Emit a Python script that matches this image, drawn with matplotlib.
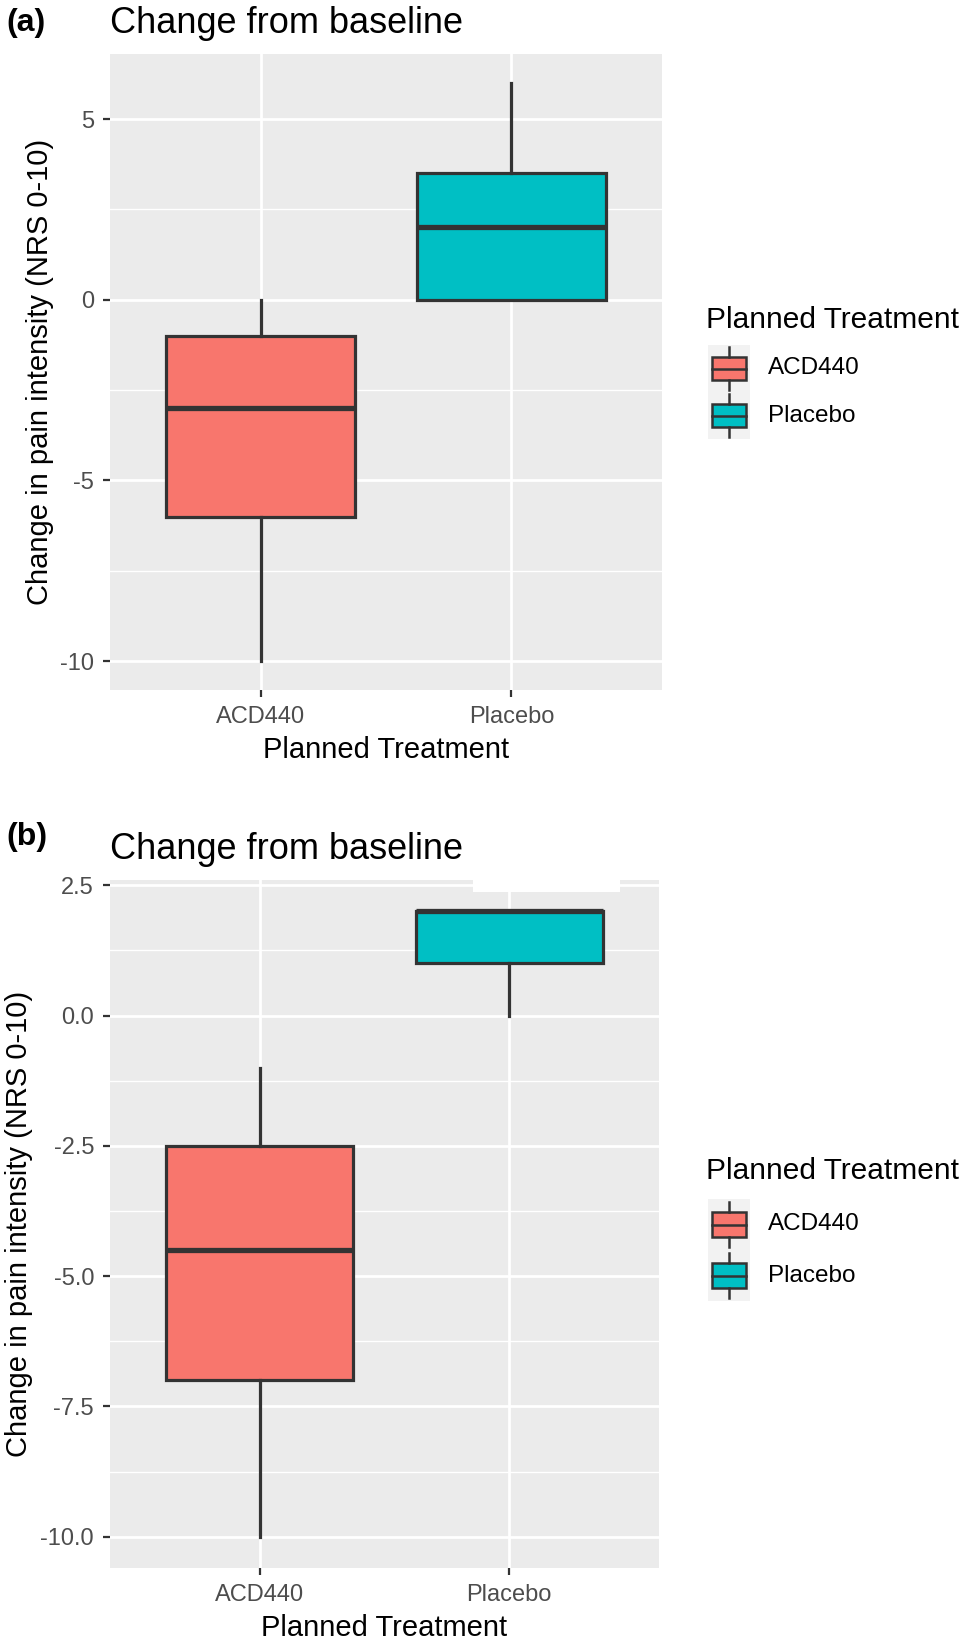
import matplotlib
matplotlib.use('Agg')
import matplotlib.pyplot as plt
from matplotlib.patches import Rectangle

plt.rcParams['font.family'] = ['Liberation Sans', 'DejaVu Sans']

# data: whisker low, Q1, median, Q3, whisker high
groups = ['ACD440', 'Placebo']
colors = ['#F8766D', '#00BFC4']

a_low = [-10, 0]
a_q1 = [-6, 0]
a_med = [-3, 2]
a_q3 = [-1, 3.5]
a_high = [0, 6]

b_low = [-10, 0]
b_q1 = [-7, 1]
b_med = [-4.5, 2]
b_q3 = [-2.5, 2]
b_high = [-1, 2]

a_ticks = [-10, -5, 0, 5]
a_ticklabels = ['-10', '-5', '0', '5']
b_ticks = [-10, -7.5, -5, -2.5, 0, 2.5]
b_ticklabels = ['-10.0', '-7.5', '-5.0', '-2.5', '0.0', '2.5']

W, H = 975, 1643
fig = plt.figure(figsize=(W / 100, H / 100), dpi=100)

PANEL = '#EBEBEB'
EDGE = '#333333'
TICKC = '#4D4D4D'


def fx(px):
    return px / W


def fy(py):
    return 1 - py / H


def draw_panel(rect, low, q1, med, q3, high, ticks, ticklabels, ylab_pad):
    ax = fig.add_axes(rect)
    ax.set_facecolor(PANEL)
    stats = []
    for i in range(len(groups)):
        stats.append(dict(whislo=low[i], q1=q1[i], med=med[i], q3=q3[i],
                          whishi=high[i], fliers=[]))
    bp = ax.bxp(stats, positions=[1, 2], widths=0.75, patch_artist=True,
                showcaps=False, showfliers=False,
                boxprops=dict(edgecolor=EDGE, linewidth=2.3),
                whiskerprops=dict(color=EDGE, linewidth=2.3),
                medianprops=dict(color=EDGE, linewidth=3.8, solid_capstyle='butt'),
                zorder=3)
    for patch, c in zip(bp['boxes'], colors):
        patch.set_facecolor(c)
    lo = min(low)
    hi = max(high)
    pad = (hi - lo) * 0.05
    ax.set_ylim(lo - pad, hi + pad)
    ax.set_xlim(0.4, 2.6)
    ax.set_xticks([1, 2])
    ax.set_xticklabels(groups)
    ax.set_yticks(ticks)
    ax.set_yticklabels(ticklabels)
    step = ticks[1] - ticks[0]
    minor = [t + step / 2 for t in [ticks[0] - step] + ticks]
    minor = [m for m in minor if lo - pad < m < hi + pad]
    ax.set_yticks(minor, minor=True)
    ax.tick_params(axis='y', which='minor', length=0)
    ax.grid(True, which='major', color='white', linewidth=2.0, zorder=0)
    ax.grid(True, which='minor', axis='y', color='white', linewidth=1.0, zorder=0)
    ax.set_axisbelow(True)
    for s in ax.spines.values():
        s.set_visible(False)
    ax.tick_params(axis='both', which='major', length=5, width=1.6, color=EDGE,
                   labelcolor=TICKC, labelsize=17, pad=6.5)
    ax.tick_params(axis='x', pad=6.5)
    ax.set_xlabel('Planned Treatment', fontsize=21, labelpad=6)
    ax.set_ylabel('Change in pain intensity (NRS 0-10)', fontsize=21, labelpad=ylab_pad)
    ax.set_title('Change from baseline', fontsize=26, loc='left', pad=15)
    return ax


def draw_legend(x0, y_title, y_key, kh):
    fig.text(fx(x0), fy(y_title), 'Planned Treatment', fontsize=21.5,
             va='baseline', ha='left')
    kw = 42
    lax = fig.add_axes([fx(x0 + 2), fy(y_key + 2 * kh), fx(kw), 2 * kh / H])
    lax.set_xlim(0, 1)
    lax.set_ylim(0, 2)
    lax.axis('off')
    for i, (g, c) in enumerate(zip(groups, colors)):
        yb = 1 - i
        lax.add_patch(Rectangle((0, yb), 1, 1, facecolor='#F2F2F2', edgecolor='none'))
        lax.plot([0.5, 0.5], [yb + 0.05, yb + 0.25], color=EDGE, lw=1.8)
        lax.plot([0.5, 0.5], [yb + 0.75, yb + 0.95], color=EDGE, lw=1.8)
        lax.add_patch(Rectangle((0.1, yb + 0.25), 0.8, 0.5, facecolor=c,
                                edgecolor=EDGE, linewidth=1.8))
        lax.plot([0.1, 0.9], [yb + 0.5, yb + 0.5], color=EDGE, lw=1.8)
        fig.text(fx(x0 + kw + 20), fy(y_key + i * kh + kh / 2), g, fontsize=17.5,
                 va='center', ha='left')


# panel (a)
draw_panel([fx(110), fy(690), fx(552), (690 - 54) / H],
           a_low, a_q1, a_med, a_q3, a_high, a_ticks, a_ticklabels, 4)
fig.text(fx(6), fy(31), '(a)', fontsize=23, fontweight='bold', va='baseline')
draw_legend(706, 328, 345, 47)

# panel (b)
draw_panel([fx(110), fy(1568), fx(549), (1568 - 880) / H],
           b_low, b_q1, b_med, b_q3, b_high, b_ticks, b_ticklabels, 5)
fig.text(fx(6), fy(845), '(b)', fontsize=23, fontweight='bold', va='baseline')
draw_legend(706, 1179, 1199, 51)

# white strip cut into the top edge of panel (b) in the source image
fig.patches.append(Rectangle((fx(473), fy(892)), fx(147), 14 / H,
                             transform=fig.transFigure, facecolor='white',
                             edgecolor='none', zorder=5))

fig.savefig('out.png', dpi=100)
